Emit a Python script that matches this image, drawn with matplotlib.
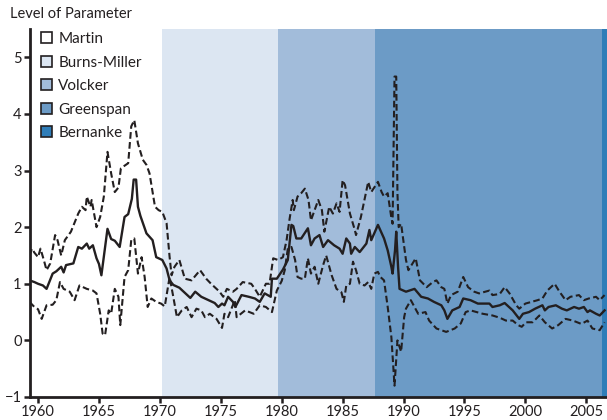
import matplotlib
matplotlib.use("Agg")
import matplotlib.pyplot as plt
from matplotlib.patches import Patch

plt.rcParams['font.family'] = ['Lato', 'DejaVu Sans']

# ---- data ----
mid_x = [1959.3, 1959.7, 1960.0, 1960.4, 1960.7, 1961.2, 1961.5, 1961.9, 1962.1, 1962.3,
         1962.9, 1963.3, 1963.6, 1964.0, 1964.2, 1964.5, 1964.8, 1965.0, 1965.2, 1965.7,
         1966.0, 1966.3, 1966.7, 1967.1, 1967.4, 1967.7, 1967.85, 1968.05, 1968.2, 1968.4,
         1968.9, 1969.4, 1969.7, 1970.2, 1970.55, 1970.8, 1971.1, 1971.6, 1972.0, 1972.5,
         1972.9, 1973.4, 1974.0, 1974.5, 1974.8, 1975.1, 1975.3, 1975.6, 1976.0, 1976.2,
         1976.7, 1977.3, 1977.8, 1978.2, 1978.6, 1979.1, 1979.2, 1979.6, 1980.1, 1980.5,
         1980.8, 1980.95, 1981.2, 1981.6, 1982.15, 1982.4, 1982.7, 1983.1, 1983.4, 1983.8,
         1984.3, 1984.75, 1985.0, 1985.3, 1985.6, 1985.7, 1986.0, 1986.4, 1986.95, 1987.2,
         1987.35, 1987.9, 1988.4, 1988.7, 1989.0, 1989.1, 1989.3, 1989.4, 1989.55, 1989.67,
         1990.2, 1990.9, 1991.45, 1992.0, 1992.5, 1993.1, 1993.35, 1993.6, 1994.0, 1994.6,
         1994.9, 1995.5, 1996.1, 1997.05, 1997.3, 1997.9, 1998.3, 1998.96, 1999.5, 1999.8,
         2000.3, 2000.8, 2001.4, 2001.6, 2001.9, 2002.5, 2003.0, 2003.4, 2004.0, 2004.4,
         2004.8, 2005.1, 2005.3, 2005.8, 2006.1, 2006.5]
mid_y = [1.06, 1.03, 1.00, 0.97, 0.91, 1.18, 1.22, 1.30, 1.20, 1.33,
         1.36, 1.65, 1.62, 1.71, 1.62, 1.68, 1.45, 1.35, 1.15, 1.97,
         1.79, 1.76, 1.65, 2.18, 2.23, 2.50, 2.84, 2.84, 2.36, 2.20,
         1.89, 1.77, 1.47, 1.42, 1.27, 1.06, 0.98, 0.93, 0.85, 0.75,
         0.86, 0.77, 0.71, 0.66, 0.59, 0.65, 0.62, 0.77, 0.68, 0.59,
         0.80, 0.77, 0.74, 0.68, 0.83, 0.77, 1.09, 1.09, 1.25, 1.42,
         2.04, 2.02, 1.80, 1.80, 1.98, 1.68, 1.80, 1.86, 1.65, 1.77,
         1.68, 1.62, 1.53, 1.80, 1.71, 1.53, 1.65, 1.56, 1.71, 1.95,
         1.77, 2.04, 1.80, 1.59, 1.30, 1.18, 1.59, 1.92, 1.30, 0.91,
         0.86, 0.91, 0.77, 0.74, 0.68, 0.62, 0.53, 0.38, 0.53, 0.59,
         0.74, 0.71, 0.65, 0.65, 0.59, 0.62, 0.66, 0.53, 0.38, 0.47,
         0.50, 0.56, 0.62, 0.53, 0.59, 0.62, 0.56, 0.53, 0.59, 0.56,
         0.59, 0.50, 0.53, 0.47, 0.44, 0.53]

upper_x = [1959.3, 1959.5, 1959.7, 1960.0, 1960.2, 1960.5, 1960.7, 1961.0, 1961.4, 1961.6,
           1961.9, 1962.2, 1962.7, 1963.3, 1963.6, 1963.9, 1964.0, 1964.3, 1964.4, 1964.8,
           1965.1, 1965.4, 1965.7, 1966.0, 1966.3, 1966.6, 1966.8, 1967.4, 1967.65, 1967.9,
           1968.2, 1968.6, 1968.9, 1969.15, 1969.6, 1969.9, 1970.2, 1970.55, 1970.8, 1970.96,
           1971.2, 1971.6, 1972.05, 1972.6, 1973.3, 1973.8, 1974.2, 1974.9, 1975.2, 1975.5,
           1976.0, 1976.3, 1976.8, 1977.5, 1977.8, 1978.2, 1978.7, 1979.0, 1979.3, 1979.7,
           1980.1, 1980.4, 1980.65, 1980.9, 1981.0, 1981.3, 1981.6, 1981.9, 1982.2, 1982.4,
           1982.7, 1983.0, 1983.3, 1983.5, 1983.9, 1984.2, 1984.5, 1984.75, 1985.0, 1985.2,
           1985.6, 1986.0, 1986.1, 1986.5, 1987.1, 1987.35, 1987.9, 1988.2, 1988.4, 1988.7,
           1988.99, 1989.1, 1989.26, 1989.4, 1989.5, 1989.6, 1989.8, 1990.2, 1990.4, 1991.0,
           1991.35, 1991.9, 1992.4, 1992.7, 1993.1, 1993.35, 1993.6, 1993.9, 1994.45, 1994.9,
           1995.3, 1995.8, 1996.2, 1997.05, 1997.3, 1997.9, 1998.3, 1998.7, 1999.25, 1999.5,
           2000.0, 2000.5, 2001.0, 2001.4, 2001.8, 2002.4, 2002.8, 2003.3, 2003.7, 2004.4,
           2004.8, 2005.2, 2005.8, 2006.1, 2006.5]
upper_y = [1.50, 1.62, 1.55, 1.47, 1.62, 1.40, 1.24, 1.36, 1.86, 1.77,
           1.50, 1.77, 1.92, 2.24, 2.36, 2.30, 2.54, 2.36, 2.48, 2.00,
           2.18, 2.54, 3.33, 2.95, 2.62, 2.70, 3.04, 3.13, 3.78, 3.89,
           3.48, 3.19, 3.10, 2.95, 2.36, 2.30, 2.27, 2.07, 1.47, 1.15,
           1.30, 1.42, 1.09, 1.06, 1.24, 1.09, 1.00, 0.86, 0.77, 0.91,
           0.86, 0.91, 1.03, 1.00, 0.91, 0.77, 1.00, 1.00, 1.45, 1.42,
           1.47, 1.77, 2.15, 2.48, 2.30, 2.54, 2.60, 2.68, 2.48, 2.12,
           2.30, 2.48, 2.30, 1.92, 2.36, 2.24, 2.42, 2.27, 2.83, 2.74,
           2.24, 1.95, 1.86, 2.18, 2.80, 2.62, 2.80, 2.62, 2.54, 2.60,
           2.18, 2.06, 4.66, 4.66, 2.60, 2.00, 2.06, 1.42, 1.24, 1.45,
           1.06, 0.94, 1.03, 1.06, 0.94, 0.91, 0.65, 0.80, 0.86, 1.12,
           0.94, 0.86, 0.83, 0.88, 0.80, 0.82, 0.94, 0.83, 0.62, 0.56,
           0.65, 0.68, 0.71, 0.74, 0.88, 1.00, 0.86, 0.71, 0.77, 0.80,
           0.71, 0.74, 0.77, 0.71, 0.80]

lower_x = [1959.3, 1959.7, 1960.0, 1960.3, 1960.7, 1961.2, 1961.5, 1961.8, 1962.1, 1962.6,
           1963.0, 1963.4, 1964.0, 1964.5, 1964.8, 1965.1, 1965.3, 1965.5, 1965.8, 1966.0,
           1966.3, 1966.6, 1966.75, 1967.1, 1967.4, 1967.65, 1967.9, 1968.2, 1968.5, 1968.75,
           1969.0, 1969.3, 1969.7, 1970.1, 1970.4, 1970.8, 1971.1, 1971.4, 1971.8, 1972.2,
           1972.6, 1973.0, 1973.4, 1973.7, 1974.1, 1974.65, 1975.1, 1975.3, 1975.6, 1976.15,
           1976.3, 1977.0, 1977.7, 1978.2, 1978.7, 1979.2, 1979.6, 1980.0, 1980.25, 1980.5,
           1980.8, 1981.1, 1981.3, 1981.6, 1981.9, 1982.15, 1982.4, 1982.7, 1983.0, 1983.4,
           1983.65, 1984.1, 1984.5, 1984.9, 1985.1, 1985.3, 1985.6, 1985.85, 1986.1, 1986.4,
           1986.8, 1987.1, 1987.35, 1987.6, 1987.9, 1988.1, 1988.4, 1988.7, 1989.0, 1989.26,
           1989.5, 1989.8, 1990.05, 1990.2, 1990.6, 1991.2, 1991.8, 1992.1, 1992.7, 1993.5,
           1994.2, 1994.7, 1995.1, 1995.5, 1996.5, 1997.3, 1997.9, 1998.4, 1998.96, 1999.4,
           1999.7, 2000.05, 2000.6, 2001.15, 2001.6, 2002.2, 2002.7, 2003.3, 2003.9, 2004.6,
           2005.1, 2005.5, 2006.1, 2006.5]
lower_y = [0.68, 0.59, 0.55, 0.38, 0.62, 0.63, 0.71, 1.03, 0.91, 0.86,
           0.71, 0.97, 0.91, 0.88, 0.83, 0.47, 0.12, 0.09, 0.53, 0.47,
           0.91, 0.77, 0.27, 1.12, 1.24, 1.77, 1.80, 1.18, 1.47, 1.12,
           0.59, 0.74, 0.68, 0.65, 0.60, 1.12, 0.77, 0.41, 0.53, 0.59,
           0.41, 0.56, 0.53, 0.41, 0.47, 0.38, 0.22, 0.47, 0.41, 0.71,
           0.41, 0.53, 0.47, 0.62, 0.59, 0.50, 0.88, 1.05, 1.24, 1.62,
           1.65, 1.42, 1.12, 1.09, 1.09, 1.45, 1.18, 1.30, 1.00, 1.33,
           1.50, 1.15, 0.91, 0.85, 0.68, 0.97, 1.00, 1.39, 1.24, 1.00,
           0.97, 1.03, 0.91, 1.18, 1.21, 1.12, 1.06, 0.59, 0.06, -0.80,
           0.00, -0.20, 0.41, 0.56, 0.71, 0.47, 0.50, 0.35, 0.21, 0.15,
           0.21, 0.30, 0.50, 0.53, 0.47, 0.44, 0.40, 0.35, 0.35, 0.27,
           0.24, 0.32, 0.32, 0.44, 0.32, 0.21, 0.27, 0.38, 0.35, 0.29,
           0.35, 0.21, 0.18, 0.32]

chairs = ['Martin', 'Burns-Miller', 'Volcker', 'Greenspan', 'Bernanke']
chair_start = [1959.0, 1970.19, 1979.73, 1987.63, 2006.27]
chair_end = [1970.19, 1979.73, 1987.63, 2006.27, 2007.0]
chair_colors = ['#ffffff', '#dce6f2', '#a2bcda', '#6c9bc6', '#2f7db8']

ink = '#231f20'

fig = plt.figure(figsize=(6.07, 4.20), dpi=100)
ax = fig.add_axes([30 / 607, 23 / 420, 577 / 607, 368 / 420])

for s, e, c in zip(chair_start, chair_end, chair_colors):
    ax.axvspan(s, e, color=c, lw=0, zorder=0)

ax.plot(upper_x, upper_y, color=ink, lw=1.5, ls=(0, (3.2, 1.6)), zorder=3)
ax.plot(lower_x, lower_y, color=ink, lw=1.5, ls=(0, (3.2, 1.6)), zorder=3)
ax.plot(mid_x, mid_y, color=ink, lw=1.7, zorder=4)

ax.set_xlim(1959.34, 2006.7)
ax.set_ylim(-1, 5.5)
ax.set_xticks([1960, 1965, 1970, 1975, 1980, 1985, 1990, 1995, 2000, 2005])
ax.set_yticks([-1, 0, 1, 2, 3, 4, 5])
ax.set_yticklabels(['\u22121', '0', '1', '2', '3', '4', '5'])

for sp in ['top', 'right']:
    ax.spines[sp].set_visible(False)
for sp in ['left', 'bottom']:
    ax.spines[sp].set_linewidth(2.0)
    ax.spines[sp].set_color(ink)
ax.tick_params(axis='both', direction='out', length=4, width=1.8, color=ink,
               labelsize=10.5, labelcolor=ink, pad=2)

handles = [Patch(facecolor=c, edgecolor=ink, linewidth=1.2) for c in chair_colors]
leg = ax.legend(handles, chairs, loc='upper left', bbox_to_anchor=(0.005, 1.012),
                frameon=False, fontsize=11, handlelength=0.72, handleheight=0.72,
                handletextpad=0.45, labelspacing=0.62, borderaxespad=0.1)
for t in leg.get_texts():
    t.set_color(ink)

fig.text(10 / 607, 1 - 14 / 420, 'Level of Parameter', fontsize=10.5, color=ink,
         ha='left', va='center')

fig.savefig('out.png', dpi=100)
